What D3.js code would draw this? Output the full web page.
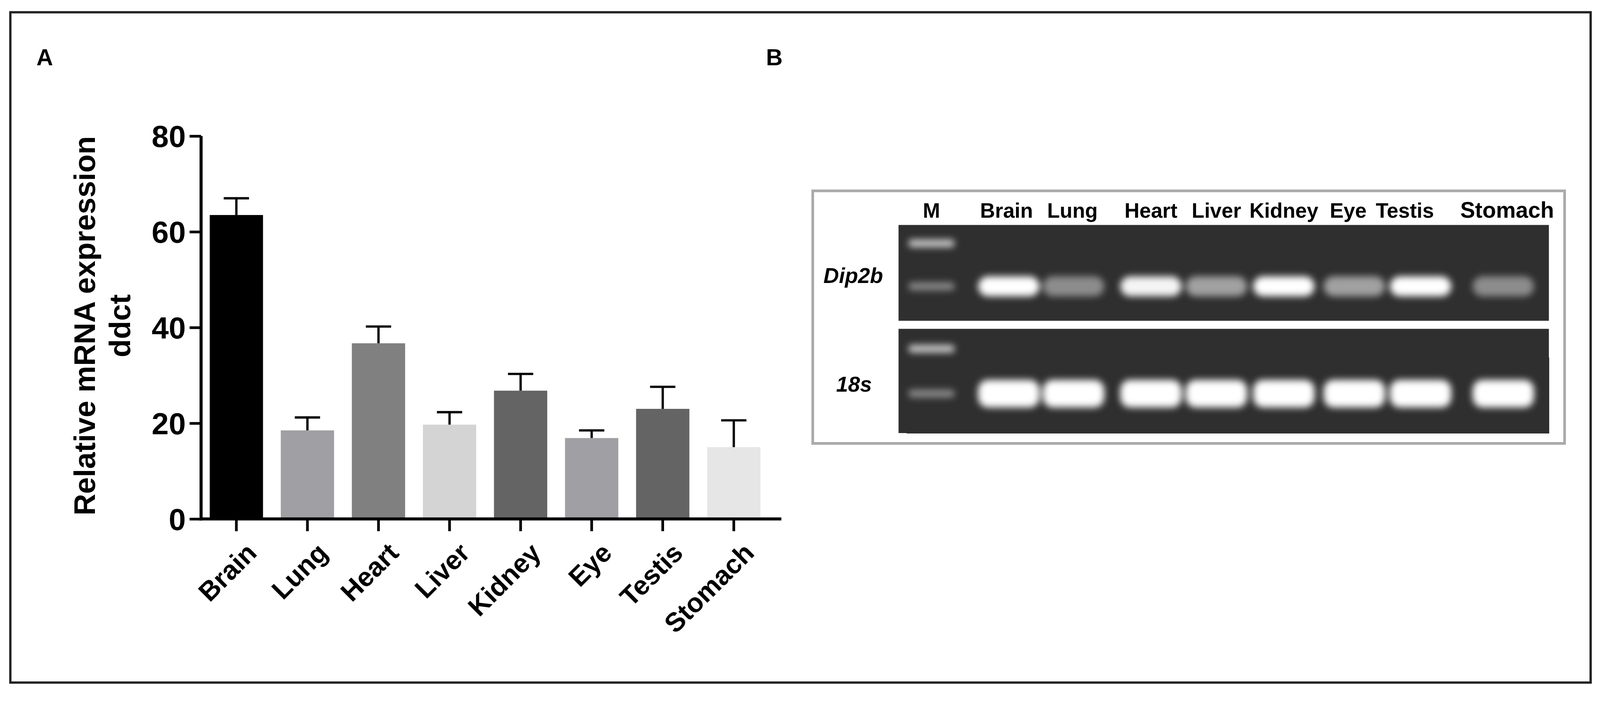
<!DOCTYPE html>
<html><head><meta charset="utf-8">
<script src="https://cdn.jsdelivr.net/npm/d3@7"></script>
<style>body{margin:0;background:#fff}</style>
</head><body><svg id="c" width="4180" height="1819"></svg>
<script>
const tissues = ["Brain","Lung","Heart","Liver","Kidney","Eye","Testis","Stomach"];
const means = [63.5,18.5,36.7,19.7,26.8,16.9,23.0,15.0];
const errUp = [3.5,2.7,3.5,2.6,3.5,1.6,4.6,5.6];
const barColors = ["#000000","#a0a0a4","#808080","#d4d4d4","#646464","#a0a0a4","#646464","#e6e6e6"];
const yTicks = [0,20,40,60,80];
const gelLanes = ["M","Brain","Lung","Heart","Liver","Kidney","Eye","Testis","Stomach"];
const dip2bIntensity = [0.45,1.0,0.45,0.95,0.55,1.0,0.55,1.0,0.45];
const s18Intensity = [0.45,1.0,1.0,1.0,1.0,1.0,1.0,1.0,1.0];
const markerIntensity = [0.75,0.45];

const root = d3.select("#c");
const svg = root.append("g").attr("transform","scale(0.9805)");
const FN = "'Liberation Sans Narrow','Arial Narrow','Liberation Sans',Arial,sans-serif";
const FA = "'Liberation Sans',Arial,sans-serif";
svg.append("rect").attr("x",27).attr("y",32).attr("width",4126).attr("height",1749)
  .attr("fill","none").attr("stroke","#222").attr("stroke-width",6);
svg.append("text").attr("x",95).attr("y",170).text("A").attr("font-family",FA).attr("font-weight","bold").attr("font-size",60);
svg.append("text").attr("x",2000).attr("y",170).text("B").attr("font-family",FA).attr("font-weight","bold").attr("font-size",60);

// Panel A
const x = d3.scaleBand().domain(tissues).range([529,2004]).paddingInner(0.25).paddingOuter(0.1);
const y = d3.scaleLinear().domain([0,80]).range([1354,355]);
const g = svg.append("g");
g.selectAll("rect.bar").data(tissues).join("rect").attr("class","bar")
  .attr("x",d=>x(d)).attr("width",x.bandwidth())
  .attr("y",(d,i)=>y(means[i])).attr("height",(d,i)=>y(0)-y(means[i]))
  .attr("fill",(d,i)=>barColors[i]);
const eb = g.selectAll("g.eb").data(tissues).join("g").attr("class","eb");
eb.append("line").attr("x1",d=>x(d)+x.bandwidth()/2).attr("x2",d=>x(d)+x.bandwidth()/2)
  .attr("y1",(d,i)=>y(means[i])).attr("y2",(d,i)=>y(means[i]+errUp[i])).attr("stroke","#000").attr("stroke-width",6);
eb.append("line").attr("x1",d=>x(d)+x.bandwidth()/2-33).attr("x2",d=>x(d)+x.bandwidth()/2+33)
  .attr("y1",(d,i)=>y(means[i]+errUp[i])).attr("y2",(d,i)=>y(means[i]+errUp[i])).attr("stroke","#000").attr("stroke-width",6);

const ya = g.append("g").attr("transform","translate(525,0)")
  .call(d3.axisLeft(y).tickValues(yTicks).tickSize(30).tickPadding(10));
ya.select(".domain").attr("stroke-width",8).attr("d","M0,355V1358");
ya.selectAll(".tick line").attr("stroke-width",7);
ya.selectAll("text").attr("font-family",FN).attr("font-weight","bold").attr("font-size",80).attr("dy","0.35em");
const xa = g.append("g").attr("transform","translate(0,1354)")
  .call(d3.axisBottom(x).tickSize(32).tickPadding(6));
xa.select(".domain").attr("stroke-width",8).attr("d","M521,0H2040");
xa.selectAll(".tick line").attr("stroke-width",7);
xa.selectAll("text").attr("font-family",FA).attr("font-weight","bold").attr("font-size",70)
  .attr("text-anchor","end").attr("dy",0).attr("transform","translate(30,66) rotate(-45)");
const yt = svg.append("text").attr("transform","translate(248,850) rotate(-90)")
  .attr("text-anchor","middle").attr("font-family",FA).attr("font-weight","bold").attr("font-size",78);
yt.append("tspan").attr("x",0).attr("dy",0).text("Relative mRNA expression");
yt.append("tspan").attr("x",0).attr("dy",92).text("ddct");

// Panel B
svg.append("rect").attr("x",2122).attr("y",498).attr("width",1963).attr("height",659)
  .attr("fill","#fff").attr("stroke","#aaa").attr("stroke-width",7);
const defs = svg.append("defs");
defs.append("filter").attr("id","blur").attr("x","-50%").attr("y","-80%").attr("width","200%").attr("height","260%")
  .append("feGaussianBlur").attr("stdDeviation",9);
const lx = d3.scalePoint().domain(gelLanes).range([2432,3925]);
const laneX = {"M":2432,"Brain":2634,"Lung":2803,"Heart":3005,"Liver":3176,"Kidney":3352,"Eye":3536,"Testis":3709,"Stomach":3925};
const labelX = {"M":2432,"Brain":2628,"Lung":2800,"Heart":3005,"Liver":3176,"Kidney":3352,"Eye":3520,"Testis":3668,"Stomach":3935};
const gels = [{name:"Dip2b",y0:587,y1:837,band:747,h:52,vals:dip2bIntensity,label:"Dip2b",ly:738,lx:2150},
              {name:"18s",y0:858,y1:1130,band:1027,h:72,vals:s18Intensity,label:"18s",ly:1022,lx:2183}];
gels.forEach(gl=>{
  svg.append("rect").attr("x",2346).attr("y",gl.y0).attr("width",1698).attr("height",gl.y1-gl.y0).attr("fill","#2f2f2f");
  const gg = svg.append("g").attr("filter","url(#blur)");
  gg.selectAll("rect").data(gelLanes.slice(1)).join("rect")
    .attr("x",d=>laneX[d]-80).attr("width",160).attr("y",gl.band-gl.h/2).attr("height",gl.h)
    .attr("rx",26).attr("fill","#fff").attr("opacity",(d,i)=>gl.vals[i+1]);
  [gl.y0+ (gl.name==="Dip2b"?48:52), gl.band].forEach((yy,j)=>{
    gg.append("rect").attr("x",lx("M")-60).attr("width",120).attr("y",yy-10).attr("height",20)
      .attr("rx",8).attr("fill","#fff").attr("opacity",markerIntensity[j]);
  });
  svg.append("text").attr("x",gl.lx).attr("y",gl.ly).text(gl.label).attr("font-family",FN)
    .attr("font-style","italic").attr("font-weight","bold").attr("font-size",56);
});
svg.selectAll("text.lane").data(gelLanes).join("text").attr("class","lane")
  .attr("x",d=>labelX[d]).attr("y",568).attr("text-anchor","middle")
  .attr("font-family",FN).attr("font-weight","bold").attr("font-size",d=>d==="Stomach"?58:54)
  .text(d=>d);
</script></body></html>
